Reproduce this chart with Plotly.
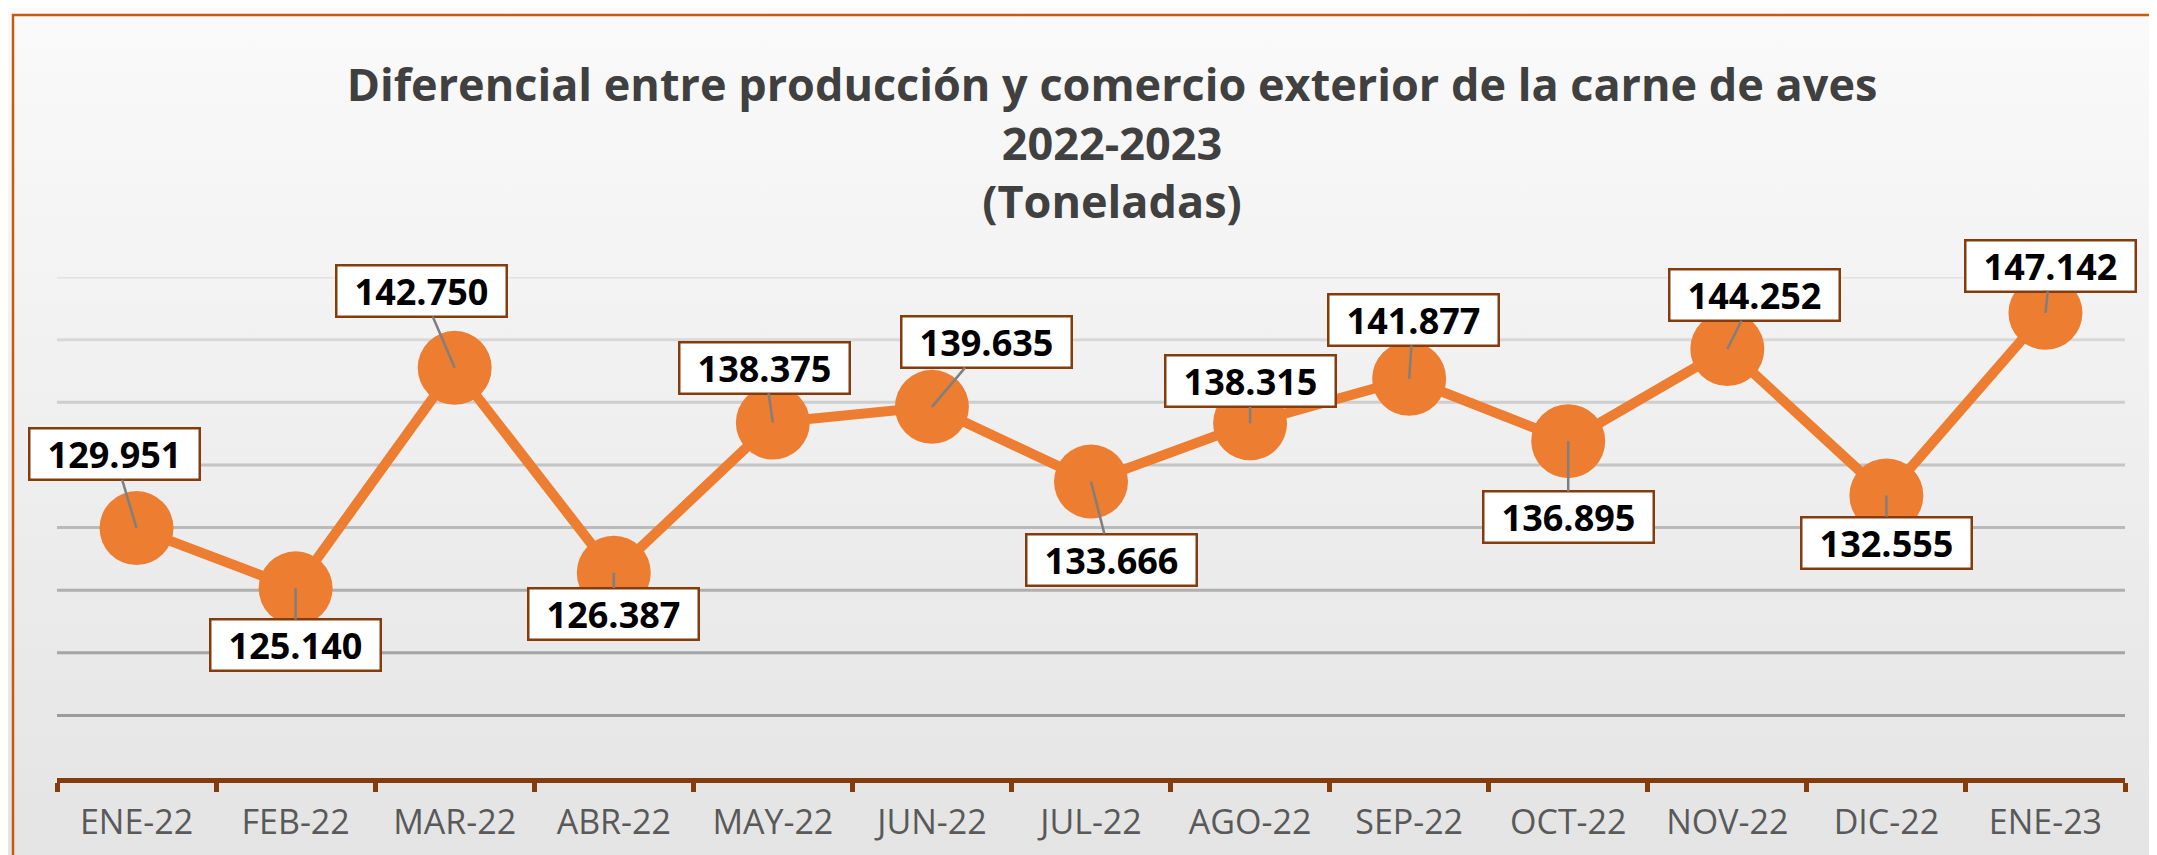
import base64
import plotly.graph_objects as go

# ---------------- data ----------------
months = ["ENE-22", "FEB-22", "MAR-22", "ABR-22", "MAY-22", "JUN-22", "JUL-22",
          "AGO-22", "SEP-22", "OCT-22", "NOV-22", "DIC-22", "ENE-23"]
toneladas = [129951, 125140, 142750, 126387, 138375, 139635, 133666,
             138315, 141877, 136895, 144252, 132555, 147142]
title_lines = ["Diferencial entre producción y comercio exterior de la carne de aves",
               "2022-2023", "(Toneladas)"]
y_min, y_max, y_step = 110000, 150000, 5000

# label box offsets (pixels, relative to each point)
label_dx = [-22, 0, -33, 0, -8, 55, 20, 0, 4, 0, 27, 0, 5]
label_dy = [-74, 57, -77, 41, -55, -65, 78, -42, -59, 76, -54, 47, -47]

# ---------------- layout geometry ----------------
OFF = 8  # page body margin
W, H = 2157 - OFF, 855 - OFF
L, T = 57 - OFF, 277 - OFF
R = W - (2125 - OFF)
B = H - (778 - OFF)
PW, PH = W - L - R, H - T - B

ORANGE = "#ED7D31"
BROWN = "#843C0C"

def fmt(v):
    return f"{v:,}".replace(",", ".")

def px_x(p):  # screen px -> paper
    return (p - OFF - L) / PW

def px_y(p):
    return (H - B - (p - OFF)) / PH

fig = go.Figure()

# gridlines with a light-to-dark gradient (top lighter, bottom darker)
grid_vals = list(range(y_min + y_step, y_max + 1, y_step))
for g in grid_vals:
    t = (g - y_min) / (y_max - y_min)
    c = int(round(145 + t * (226 - 145)))
    fig.add_shape(type="line", xref="paper", x0=0, x1=1, yref="y", y0=g, y1=g,
                  line=dict(color=f"rgb({c},{c},{c})", width=3), layer="below")

fig.add_trace(go.Scatter(
    x=months, y=toneladas, mode="lines+markers",
    line=dict(color=ORANGE, width=10),
    marker=dict(color=ORANGE, size=74, line=dict(width=0)),
    cliponaxis=False, hoverinfo="skip", showlegend=False,
))

for m, v, dx, dy in zip(months, toneladas, label_dx, label_dy):
    fig.add_annotation(
        x=m, y=v, text=fmt(v), showarrow=True, ax=dx, ay=dy,
        arrowhead=0, arrowwidth=2.5, arrowcolor="#7f7f7f", standoff=0,
        font=dict(family="Open Sans", size=36, color="#000000", weight="bold"),
        bgcolor="#ffffff", bordercolor=BROWN, borderwidth=2.5, borderpad=1,
        width=166, height=47,
    )

# gradient background as inline svg
svg = ('<svg xmlns="http://www.w3.org/2000/svg" width="100" height="100" viewBox="0 0 100 100" '
       'preserveAspectRatio="none"><defs><linearGradient id="g" x1="0" y1="0" x2="0" y2="1">'
       '<stop offset="0" stop-color="#fafafa"/><stop offset="1" stop-color="#e4e4e4"/>'
       '</linearGradient></defs><rect x="0" y="0" width="100" height="100" fill="url(#g)"/></svg>')
src = "data:image/svg+xml;base64," + base64.b64encode(svg.encode()).decode()

fig.add_layout_image(dict(
    source=src, xref="paper", yref="paper", x=-L / PW, y=(H - B) / PH,
    sizex=W / PW, sizey=H / PH, sizing="stretch", xanchor="left", yanchor="top",
    layer="below",
))

# outer chart border (left and top visible)
fig.add_shape(type="rect", xref="paper", yref="paper",
              x0=px_x(13), x1=px_x(2240), y0=px_y(15), y1=px_y(920),
              line=dict(color="#C55A11", width=2.5), fillcolor="rgba(0,0,0,0)", layer="below")

fig.update_layout(
    width=W, height=H,
    margin=dict(l=L, r=R, t=T, b=B),
    paper_bgcolor="#f2f2f2", plot_bgcolor="rgba(0,0,0,0)",
    title=dict(
        text="<br>".join(title_lines),
        x=px_x(1112), xref="paper", xanchor="center",
        y=1 - 93 / H, yref="container", yanchor="middle",
        font=dict(family="Open Sans", size=45, color="#404040", weight="bold"),
    ),
    xaxis=dict(
        type="category", range=[-0.5, len(months) - 0.5],
        showline=True, linecolor=BROWN, linewidth=5,
        ticks="outside", tickson="boundaries", ticklen=9, tickwidth=5, tickcolor=BROWN,
        showgrid=False, zeroline=False,
        tickfont=dict(family="Open Sans", size=34, color="#595959"),
        ticklabelstandoff=10,
    ),
    yaxis=dict(
        range=[y_min, y_max], dtick=y_step, showticklabels=False,
        showgrid=False, zeroline=False, showline=False, ticks="",
    ),
)

fig.write_html("out.html")
